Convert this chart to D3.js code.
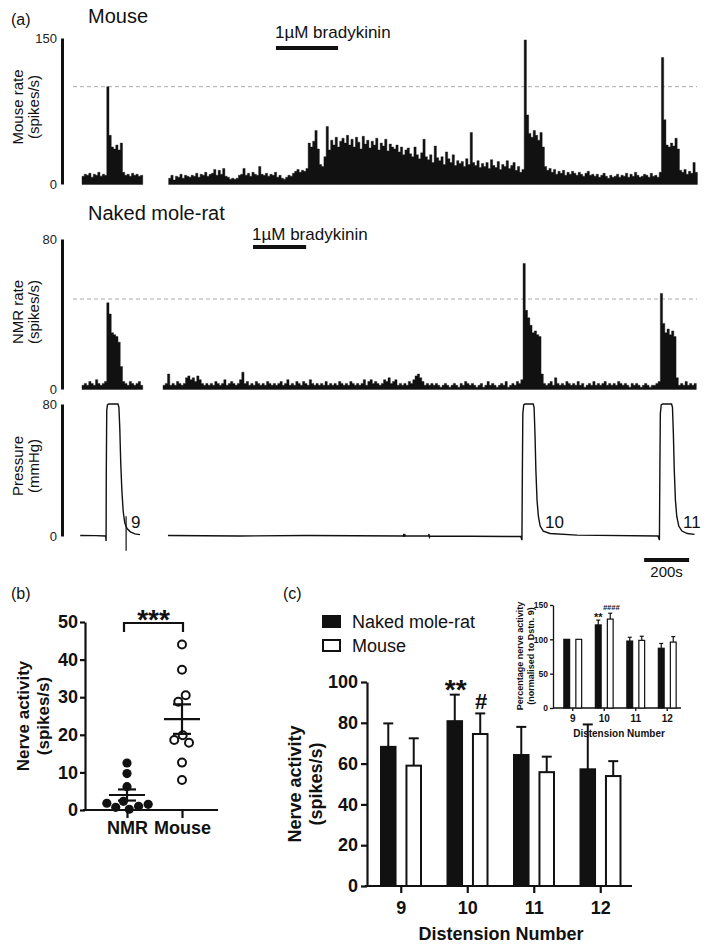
<!DOCTYPE html>
<html><head><meta charset="utf-8">
<script src="https://cdn.jsdelivr.net/npm/d3@7"></script>
<style>
body{margin:0;background:#fff}
svg{display:block}
text{font-family:"Liberation Sans",Arial,Helvetica,sans-serif}
</style>
</head><body>
<svg id="c" width="705" height="949"></svg>
<script>
// ---------------- DATA ----------------
// (a) firing-rate traces, 10 s bins (spikes/s); each segment has a start time (s)
const binSec = 10;
const mouseSeg1Start = 0;
const mouseSeg1 = [8,10,9,11,7,10,9,12,8,10,9,100,50,38,36,40,35,42,12,9,10,8,11,9,10,8,9];
const mouseSeg2Start = 385;
const mouseSeg2 = [
 6,9,4,8,7,10,6,9,8,7, 9,8,11,7,10,9,12,8,10,11, 15,9,14,10,16,8,7,5,6,5,
 6,9,10,16,9,11,8,12,10,9, 18,10,9,11,8,10,9,12,7,9, 6,5,7,9,8,11,13,15,12,14,
 13,16,42,38,44,55,36,20,18,28, 59,35,45,40,48,38,44,47,42,50, 40,46,38,48,43,36,49,41,45,37,
 44,40,47,35,42,39,46,34,41,38, 36,40,33,38,30,35,37,31,28,38, 30,26,32,46,28,25,30,22,39,27,
 24,28,20,33,26,22,30,19,24,21, 23,18,26,20,53,22,19,24,17,21, 18,22,16,25,19,17,23,15,20,18,
 24,16,19,22,14,18,12,15,148,71, 52,48,55,50,45,53,38,18,14,16, 12,15,10,13,11,14,9,12,10,13,
 11,9,12,10,8,11,13,9,10,8, 10,7,9,11,8,6,9,7,8,10, 7,9,8,11,7,10,8,12,9,7,
 8,10,9,7,11,8,9,7,12,130, 66,40,38,42,39,47,36,14,12,15, 10,13,11,22,12];
const nmrSeg1Start = 0;
const nmrSeg1 = [2,3,2,4,3,2,5,3,2,3,4,46,40,30,29,28,25,12,4,3,2,4,3,2,3,4,2];
const nmrSeg2Start = 360;
const nmrSeg2 = [
 2,3,8,2,3,2,4,3,2,3, 6,7,5,6,4,7,5,3,2,3, 2,3,2,4,3,2,3,5,2,3,
 4,3,2,3,5,9,3,4,2,3, 2,4,3,2,3,2,4,3,2,3, 2,3,4,2,3,5,2,3,2,4,
 3,2,4,3,2,5,3,2,3,2, 3,2,4,2,3,2,3,2,4,3, 2,3,2,4,3,2,3,2,3,5,
 2,4,5,3,4,3,2,3,5,4, 6,3,4,5,2,3,2,3,2,4, 3,5,7,8,6,4,2,3,2,3,
 2,3,2,1,2,3,2,1,2,3, 2,1,3,2,4,3,2,3,2,1, 2,3,1,2,4,2,3,2,1,2,
 3,2,4,1,2,3,2,4,3,5, 67,42,38,34,30,31,29,28,8,3, 2,3,4,2,6,3,2,3,2,4,
 3,2,3,2,4,2,3,1,2,3, 2,4,2,3,2,3,4,2,3,2, 3,2,4,3,2,3,2,1,3,2,
 3,2,1,2,3,2,1,2,2,3, 4,51,35,30,32,29,31,28,6,2, 3,2,4,2,3,2,3];
const mouseThreshold = 100;
const nmrThreshold = 48;
// pressure (mmHg) as [time s, value]
const pressureSeg1 = [[-8,0.3],[60,0.2],[105,0],[107,-3],[108,40],[110,76],[113,79.5],[118,80],[160,80],[164,78],[168,65],[172,45],[177,28],[183,15],[190,8],[200,4.5],[215,2.5],[235,1.3],[258,0.8]];
const pressureSeg2 = [[382,0.3],[700,0],[1000,0.3],[1428,0],[1430,1.2],[1432,-0.6],[1434,1.2],[1436,0],[1540,0],[1542,1.2],[1544,-0.6],[1546,0],[1950,-0.3],[1955,-2.5],[1957,40],[1959,74],[1963,79.5],[1968,80],[2005,80],[2009,78],[2013,62],[2017,40],[2022,22],[2028,12],[2036,6],[2050,3],[2080,1.5],[2200,0.5],[2560,0],[2566,-2.5],[2568,40],[2570,74],[2574,79.5],[2580,80],[2620,80],[2624,78],[2628,62],[2632,40],[2637,22],[2643,12],[2652,6],[2666,3],[2690,1.5],[2722,1]];
const pressureArtifacts = [{t:196, hi:12, lo:-9}];
const distensionMarks = [{t:218, label:"9"},{t:2058, label:"10"},{t:2671, label:"11"}];
const bradykininMouse = [862, 1138];
const bradykininNmr = [760, 996];
const scaleBarSec = [2498, 2698];
const mouseTicks = [0,150], nmrTicks = [0,80], pressureTicks = [0,80];

// (b) individual nerve activity (spikes/s)
const groupsB = ["NMR","Mouse"];
const nmrActivity = [12.5,9.7,6.2,0.2,2.3,1.0,1.8,0.7,1.5];
const mouseActivity = [44.0,37.3,28.8,30.5,17.9,19.9,18.6,12.6,8.0];
const ticksB = [0,10,20,30,40,50];

// (c) mean + SEM by distension number
const distensions = ["9","10","11","12"];
const species = ["Naked mole-rat","Mouse"];
const nmrMean = [68.2,80.8,64.2,57.2];
const nmrSem  = [11.5,13.0,13.8,22.0];
const mouseMean = [59.0,74.5,55.8,53.9];
const mouseSem  = [13.4,10.1,7.6,7.3];
const ticksC = [0,20,40,60,80,100];
const sigC = [{d:"10", s:0, txt:"**"},{d:"10", s:1, txt:"#"}];
// inset: % normalised to distension 9
const nmrPct = [100,121,97.5,87];
const nmrPctSem = [0,7,5.5,7];
const mousePct = [100,129.5,98.5,96];
const mousePctSem = [0,8.5,6,8];
const ticksI = [0,50,100,150];
const sigI = [{d:"10", s:0, txt:"**"},{d:"10", s:1, txt:"####"}];

// ---------------- DRAW ----------------
const svg = d3.select("#c");
const ink = "#111";

function txt(x, y, s, size, opts={}) {
  const t = svg.append("text").attr("x", x).attr("y", y).text(s)
    .attr("font-size", size).attr("fill", opts.fill || ink)
    .attr("font-weight", opts.weight || "normal")
    .attr("text-anchor", opts.anchor || "start");
  if (opts.rotate) t.attr("transform", `rotate(-90,${x},${y})`);
  return t;
}

// ===== Panel (a) =====
const xT = d3.scaleLinear().domain([0, 2733]).range([82, 697]);
const yMouse = d3.scaleLinear().domain([0,150]).range([184, 38]);
const yNmr = d3.scaleLinear().domain([0,80]).range([389, 239]);
const yPress = d3.scaleLinear().domain([0,80]).range([536, 404]);

txt(11, 25, "(a)", 16);
txt(88, 23, "Mouse", 20);
txt(88, 220, "Naked mole-rat", 20);

function traceArea(values, start, y) {
  const pts = values.map((v,i)=>({t:start+i*binSec, v}));
  pts.push({t:start+values.length*binSec, v: values[values.length-1]});
  const area = d3.area().x(d=>xT(d.t)).y0(y(0)+0.5).y1(d=>y(d.v)).curve(d3.curveStepAfter);
  svg.append("path").attr("d", area(pts)).attr("fill", ink).attr("stroke", ink).attr("stroke-width",0.4);
}
function aAxis(y, ticks) {
  const ax = d3.axisLeft(y).tickValues(ticks).tickSize(0).tickSizeOuter(0).tickPadding(5);
  const g = svg.append("g").attr("transform","translate(62,0)").call(ax);
  g.select(".domain").attr("stroke-width",3).attr("stroke", ink);
  g.selectAll("text").attr("font-size",13).attr("fill","#222").attr("font-family",null);
}
function thresh(y, v) {
  svg.append("line").attr("x1", 73).attr("x2", xT.range()[1]).attr("y1", y(v)).attr("y2", y(v))
    .attr("stroke","#aaa").attr("stroke-width",1).attr("stroke-dasharray","4,3");
}
function brady(range, y, ty) {
  svg.append("rect").attr("x", xT(range[0])).attr("y", y).attr("width", xT(range[1])-xT(range[0])).attr("height",4).attr("fill", ink);
  txt(xT(range[0])-1, ty, "1\u00B5M bradykinin", 17);
}
function twoLine(cx, cy, l1, l2, size, weight, gap) {
  txt(cx, cy, l1, size, {anchor:"middle", rotate:true, weight});
  txt(cx+gap, cy, l2, size, {anchor:"middle", rotate:true, weight});
}

// Mouse
thresh(yMouse, mouseThreshold);
traceArea(mouseSeg1, mouseSeg1Start, yMouse);
traceArea(mouseSeg2, mouseSeg2Start, yMouse);
aAxis(yMouse, mouseTicks);
brady(bradykininMouse, 46, 38);
twoLine(23, 107, "Mouse rate", "(spikes/s)", 15, "normal", 16);

// NMR
thresh(yNmr, nmrThreshold);
traceArea(nmrSeg1, nmrSeg1Start, yNmr);
traceArea(nmrSeg2, nmrSeg2Start, yNmr);
aAxis(yNmr, nmrTicks);
brady(bradykininNmr, 245, 240);
twoLine(23, 312, "NMR rate", "(spikes/s)", 15, "normal", 16);

// Pressure
const pLine = d3.line().x(d=>xT(d[0])).y(d=>yPress(d[1]));
[pressureSeg1, pressureSeg2].forEach(seg=>{
  svg.append("path").attr("d", pLine(seg)).attr("fill","none").attr("stroke", ink).attr("stroke-width",1.4);
});
pressureArtifacts.forEach(a=>{
  svg.append("line").attr("x1", xT(a.t)).attr("x2", xT(a.t)).attr("y1", yPress(a.hi)).attr("y2", yPress(a.lo))
    .attr("stroke", ink).attr("stroke-width",1.2);
});
distensionMarks.forEach(m=> txt(xT(m.t), yPress(0)-8, m.label, 17));
aAxis(yPress, pressureTicks);
twoLine(23, 466, "Pressure", "(mmHg)", 15, "normal", 16);
svg.append("rect").attr("x", xT(scaleBarSec[0])).attr("y", 558).attr("width", xT(scaleBarSec[1])-xT(scaleBarSec[0])).attr("height",4).attr("fill", ink);
txt((xT(scaleBarSec[0])+xT(scaleBarSec[1]))/2, 577, "200s", 15, {anchor:"middle"});

// ===== Panel (b) =====
txt(11, 599, "(b)", 16);
const yB = d3.scaleLinear().domain([0,50]).range([810,622]);
const xB = d3.scalePoint().domain(groupsB).range([127,182]);
{
  const gy = svg.append("g").attr("transform","translate(85,0)")
    .call(d3.axisLeft(yB).tickValues(ticksB).tickSize(5).tickSizeOuter(0).tickPadding(2));
  gy.selectAll("path,line").attr("stroke", ink).attr("stroke-width",2.2);
  gy.selectAll("text").attr("font-size",18).attr("font-weight","bold").attr("fill", ink).attr("font-family",null);
  const gx = svg.append("g").attr("transform","translate(0,810)")
    .call(d3.axisBottom(xB).tickSize(8).tickSizeOuter(0).tickPadding(3));
  gx.select(".domain").attr("d", `M${xB.range()[0]-44},0H${xB.range()[1]+36}`);
  gx.selectAll("path,line").attr("stroke", ink).attr("stroke-width",2.2);
  gx.selectAll("text").attr("font-size",18).attr("font-weight","bold").attr("fill", ink).attr("font-family",null);
}
twoLine(29, 716, "Nerve activity", "(spikes/s)", 17, "bold", 20);

function swarm(values, cx) {
  const nodes = values.map(v=>({v, x:cx, fy:yB(v), y:yB(v)}));
  const sim = d3.forceSimulation(nodes)
    .force("x", d3.forceX(cx).strength(0.08))
    .force("c", d3.forceCollide(4.9))
    .stop();
  for (let i=0;i<300;i++) sim.tick();
  return nodes;
}
[[nmrActivity,"NMR"],[mouseActivity,"Mouse"]].forEach(([vals,grp])=>{
  const cx = xB(grp);
  const nodes = swarm(vals, cx);
  const filled = grp === "NMR";
  svg.selectAll(null).data(nodes).enter().append("circle")
    .attr("cx", d=>d.x).attr("cy", d=>d.y).attr("r", filled?4.6:4)
    .attr("fill", filled?ink:"#fff").attr("stroke", ink).attr("stroke-width", filled?0:2);
  const m = d3.mean(vals), sem = d3.deviation(vals)/Math.sqrt(vals.length);
  const g = svg.append("g").attr("stroke", ink).attr("stroke-width",2.2);
  g.append("line").attr("x1", cx-18).attr("x2", cx+18).attr("y1", yB(m)).attr("y2", yB(m));
  g.append("line").attr("x1", cx).attr("x2", cx).attr("y1", yB(m-sem)).attr("y2", yB(m+sem));
  [m-sem, m+sem].forEach(v=> g.append("line").attr("x1", cx-9).attr("x2", cx+9).attr("y1", yB(v)).attr("y2", yB(v)));
});
// significance bracket
{
  const yb = yB(50)+1;
  svg.append("path").attr("d", `M${xB("NMR")-3},${yb+9}V${yb}H${xB("Mouse")+1}V${yb+9}`)
    .attr("fill","none").attr("stroke", ink).attr("stroke-width",2.2);
  txt((xB("NMR")+xB("Mouse"))/2-1, yb+6, "***", 28, {anchor:"middle", weight:"bold"});
}

// ===== Panel (c) =====
txt(283, 599, "(c)", 16);
const yC = d3.scaleLinear().domain([0,100]).range([886,682]);
const xC = d3.scaleBand().domain(distensions).range([368,634]);
const xS = d3.scaleBand().domain(species).range([12,54]).paddingInner(0.35);
{
  const gy = svg.append("g").attr("transform","translate(367,0)")
    .call(d3.axisLeft(yC).tickValues(ticksC).tickSize(6).tickSizeOuter(0).tickPadding(3));
  gy.selectAll("path,line").attr("stroke", ink).attr("stroke-width",2.2);
  gy.selectAll("text").attr("font-size",18).attr("font-weight","bold").attr("fill", ink).attr("font-family",null);
  const gx = svg.append("g").attr("transform","translate(0,886)")
    .call(d3.axisBottom(xC).tickSize(7).tickSizeOuter(0).tickPadding(8));
  gx.select(".domain").attr("d", `M${xC.range()[0]-3},0H${xC.range()[1]-2}`);
  gx.selectAll("path,line").attr("stroke", ink).attr("stroke-width",2.2);
  gx.selectAll("text").attr("font-size",18).attr("font-weight","bold").attr("fill", ink).attr("font-family",null);
}
txt((xC.range()[0]+xC.range()[1])/2, 940, "Distension Number", 18, {anchor:"middle", weight:"bold"});
twoLine(301, 784, "Nerve activity", "(spikes/s)", 18, "bold", 21);

function bars(xBand, xSub, y, seriesList, capW, sw) {
  seriesList.forEach(({mean, sem, filled}, si)=>{
    const sp = species[si];
    distensions.forEach((d,i)=>{
      const x0 = xBand(d) + xSub(sp);
      const w = xSub.bandwidth();
      if (sem[i] > 0) {
        const g = svg.append("g").attr("stroke", ink).attr("stroke-width", sw);
        g.append("line").attr("x1", x0+w/2).attr("x2", x0+w/2).attr("y1", y(mean[i])).attr("y2", y(mean[i]+sem[i]));
        g.append("line").attr("x1", x0+w/2-capW/2).attr("x2", x0+w/2+capW/2).attr("y1", y(mean[i]+sem[i])).attr("y2", y(mean[i]+sem[i]));
      }
      svg.append("rect").attr("x", x0+sw/2).attr("y", y(mean[i])).attr("width", w-sw).attr("height", y(0)-y(mean[i]))
        .attr("fill", filled?ink:"#fff").attr("stroke", ink).attr("stroke-width", sw);
    });
  });
}
bars(xC, xS, yC, [{mean:nmrMean, sem:nmrSem, filled:true},{mean:mouseMean, sem:mouseSem, filled:false}], 10, 2);
sigC.forEach(s=>{
  const i = distensions.indexOf(s.d);
  const m = s.s===0 ? nmrMean[i]+nmrSem[i] : mouseMean[i]+mouseSem[i];
  const cx = xC(s.d) + xS(species[s.s]) + xS.bandwidth()/2;
  if (s.txt === "**") txt(cx+1, yC(m)+4, s.txt, 28, {anchor:"middle", weight:"bold"});
  else txt(cx+1, yC(m)-4, s.txt, 22, {anchor:"middle", weight:"bold"});
});
// legend
species.forEach((sp,i)=>{
  const yy = 616 + i*24;
  svg.append("rect").attr("x", 323).attr("y", yy).attr("width", 17).attr("height", 11)
    .attr("fill", i===0?ink:"#fff").attr("stroke", ink).attr("stroke-width", 2);
  txt(352, yy+12, sp, 18);
});

// ----- inset -----
const yI = d3.scaleLinear().domain([0,150]).range([708,605]);
const xI = d3.scaleBand().domain(distensions).range([557,683]);
const xSI = d3.scaleBand().domain(species).range([6.25,25.25]).paddingInner(0.417);
{
  const gy = svg.append("g").attr("transform","translate(553,0)")
    .call(d3.axisLeft(yI).tickValues(ticksI).tickSize(3).tickSizeOuter(0).tickPadding(2));
  gy.selectAll("path,line").attr("stroke", ink).attr("stroke-width",1.3);
  gy.selectAll("text").attr("font-size",8.5).attr("font-weight","bold").attr("fill", ink).attr("font-family",null);
  const gx = svg.append("g").attr("transform","translate(0,708)")
    .call(d3.axisBottom(xI).tickSize(3).tickSizeOuter(0).tickPadding(4));
  gx.select(".domain").attr("d", `M${553},0H${xI.range()[1]-2}`);
  gx.selectAll("path,line").attr("stroke", ink).attr("stroke-width",1.3);
  gx.selectAll("text").attr("font-size",10).attr("font-weight","bold").attr("fill", ink).attr("font-family",null);
}
bars(xI, xSI, yI, [{mean:nmrPct, sem:nmrPctSem, filled:true},{mean:mousePct, sem:mousePctSem, filled:false}], 4, 1.2);
txt(619, 737, "Distension Number", 10, {anchor:"middle", weight:"bold"});
twoLine(523, 656, "Percentage nerve activity", "(normalised to Dstn. 9)", 9, "bold", 11);
sigI.forEach(s=>{
  const i = distensions.indexOf(s.d);
  const m = s.s===0 ? nmrPct[i]+nmrPctSem[i] : mousePct[i]+mousePctSem[i];
  const cx = xI(s.d) + xSI(species[s.s]) + xSI.bandwidth()/2;
  if (s.txt === "**") txt(cx, yI(m)+1, s.txt, 11, {anchor:"middle", weight:"bold"});
  else txt(cx+1, yI(m)-3, s.txt, 7.5, {anchor:"middle", weight:"bold"}).attr("font-style","italic");
});
</script>
</body></html>
